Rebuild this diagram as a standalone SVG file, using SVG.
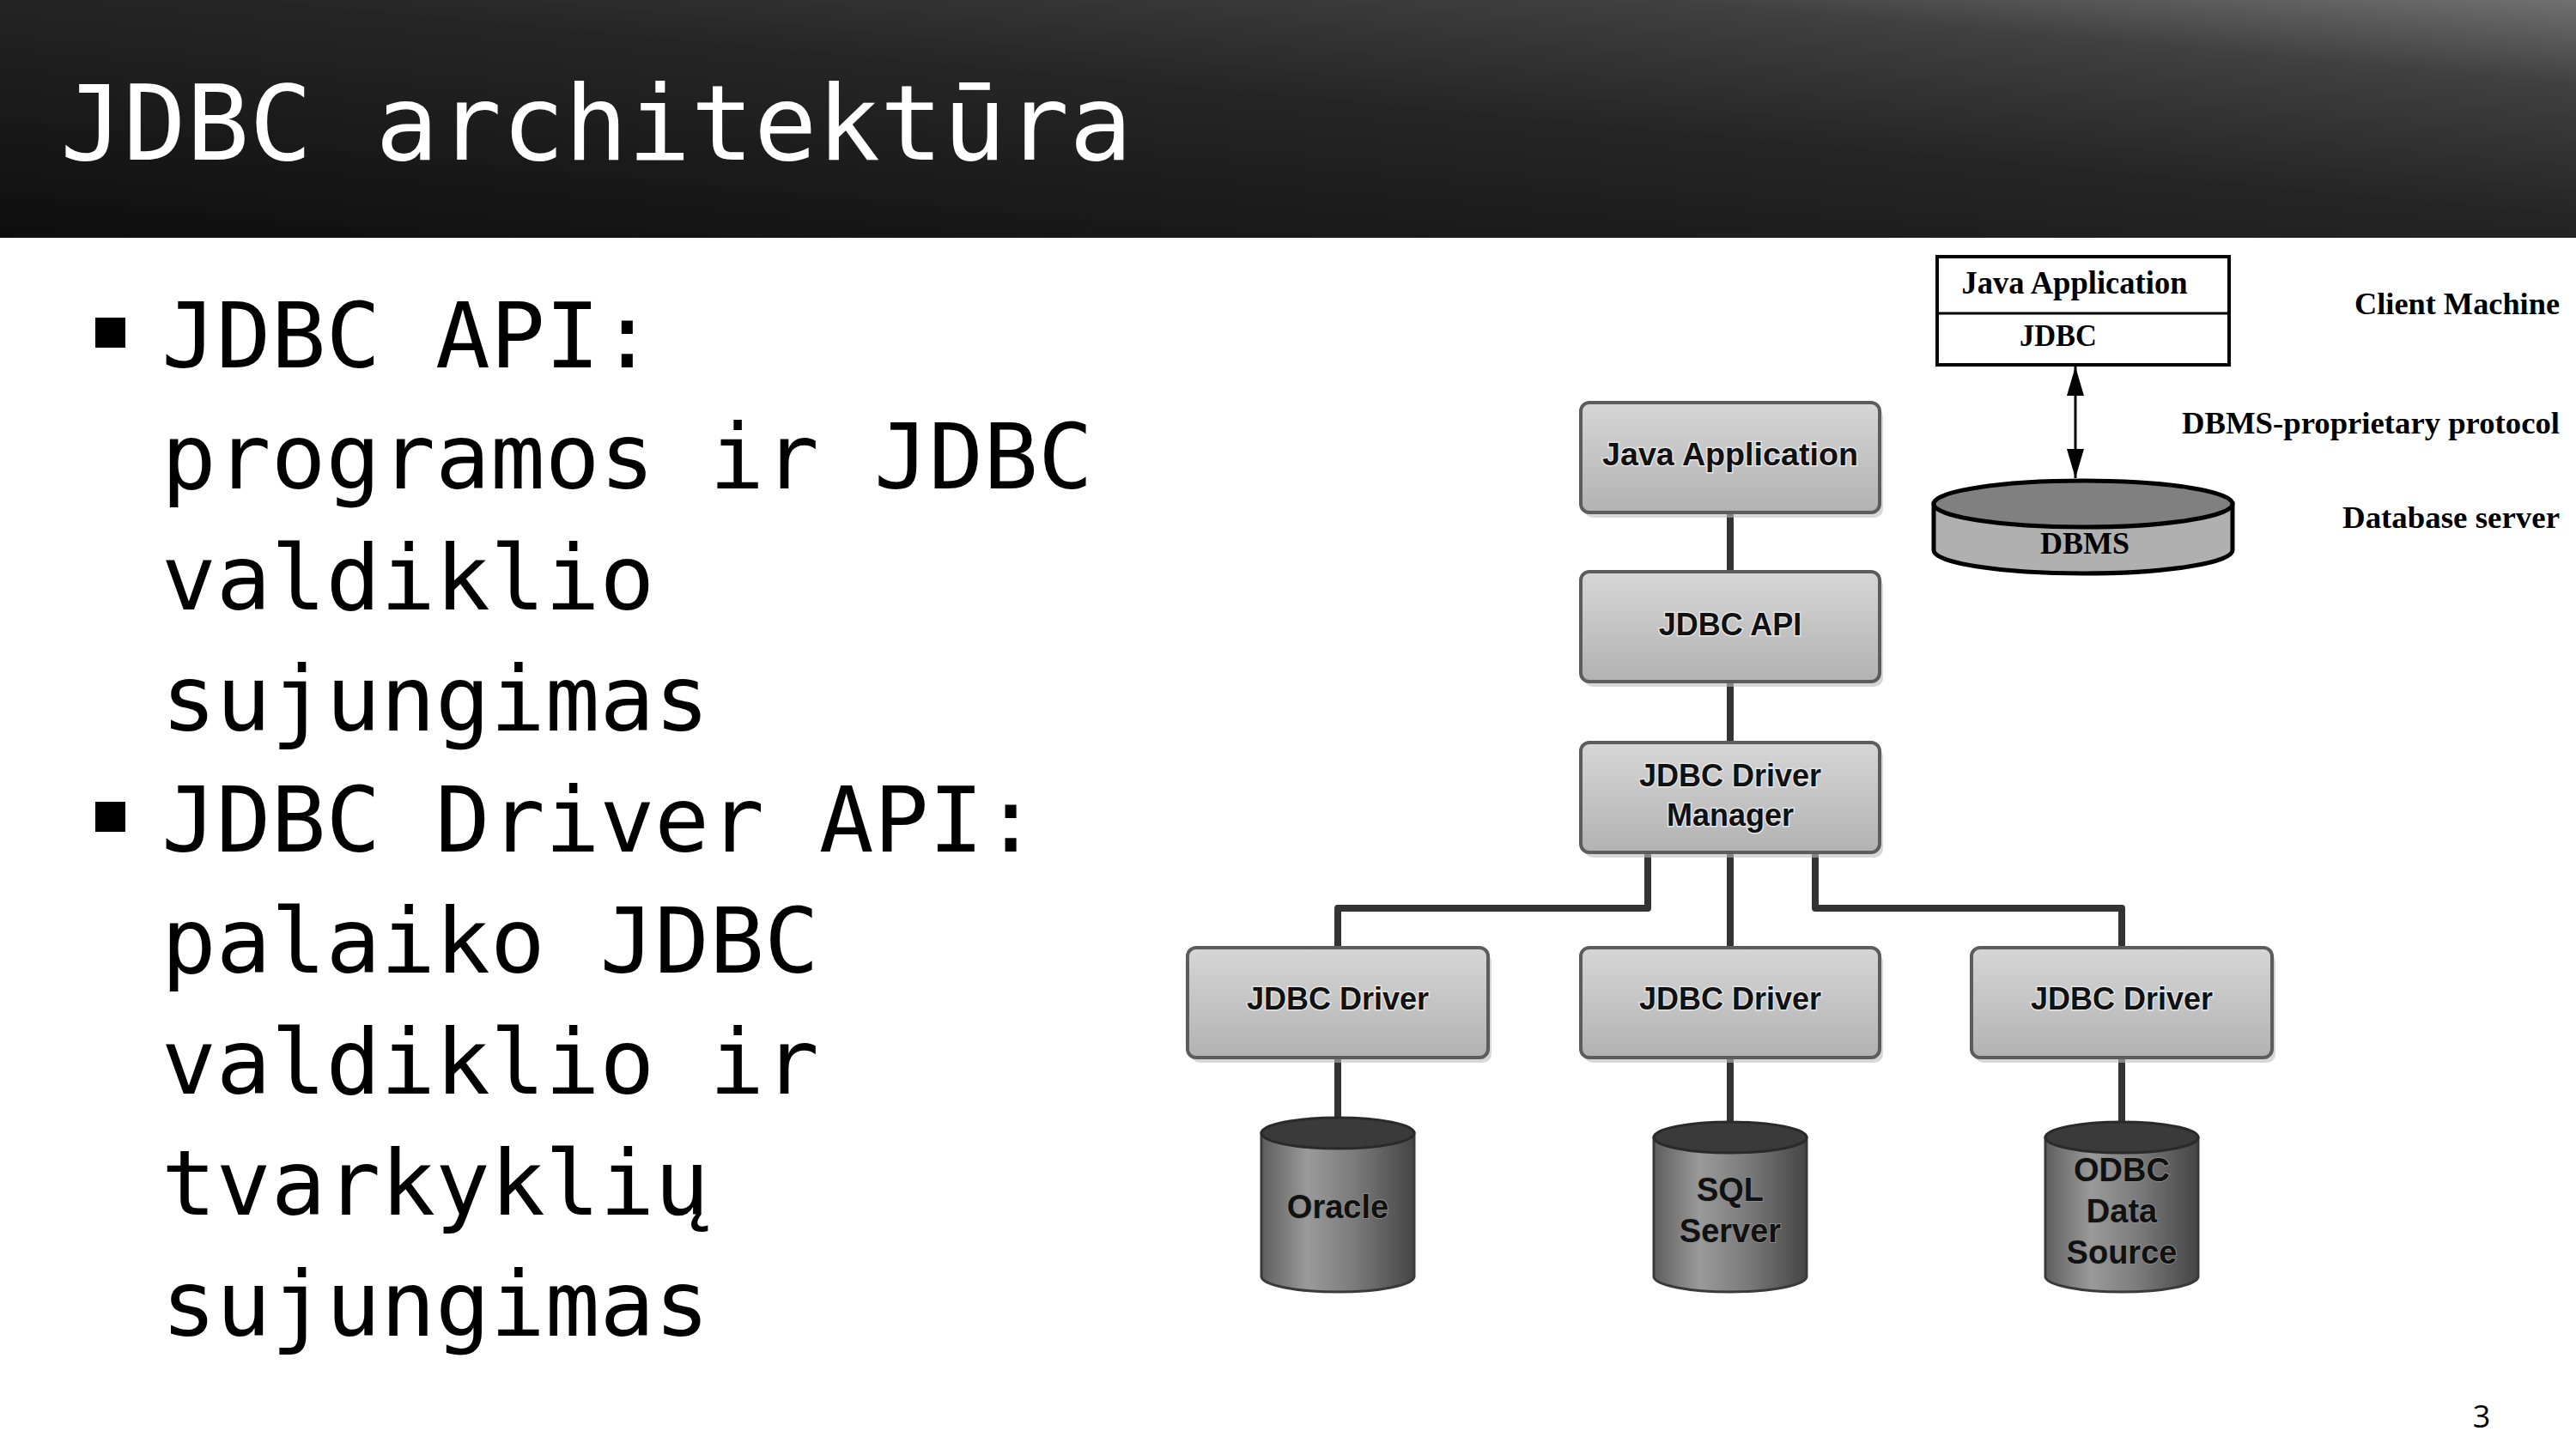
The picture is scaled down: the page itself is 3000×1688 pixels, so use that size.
<svg xmlns="http://www.w3.org/2000/svg" width="3000" height="1688" viewBox="0 0 3000 1688">
<defs>
  <linearGradient id="titleGrad" x1="0" y1="1" x2="1" y2="0">
    <stop offset="0" stop-color="#0e0e0e"/>
    <stop offset="0.55" stop-color="#262626"/>
    <stop offset="0.82" stop-color="#404040"/>
    <stop offset="1" stop-color="#707070"/>
  </linearGradient>
  <linearGradient id="boxGrad" x1="0" y1="0" x2="0" y2="1">
    <stop offset="0" stop-color="#d6d6d6"/>
    <stop offset="1" stop-color="#b2b2b2"/>
  </linearGradient>
  <linearGradient id="cylBody" x1="0" y1="0" x2="1" y2="0">
    <stop offset="0" stop-color="#5e5e5e"/>
    <stop offset="0.3" stop-color="#9a9a9a"/>
    <stop offset="0.6" stop-color="#7c7c7c"/>
    <stop offset="1" stop-color="#454545"/>
  </linearGradient>
  <marker id="tri" markerUnits="userSpaceOnUse" markerWidth="34" markerHeight="20" refX="34" refY="10" orient="auto-start-reverse" viewBox="0 0 34 20">
    <path d="M0 0 L34 10 L0 20 Z" fill="#000"/>
  </marker>
  <style>
    .mono { font-family: "DejaVu Sans Mono", "Liberation Mono", monospace; }
    .bul { font-size: 106px; fill: #000; }
    .box { fill: url(#boxGrad); stroke: #5c5c5c; stroke-width: 4; }
    .shadow { fill: #bdbdbd; opacity: 0.6; }
    .lbl { font-family: "Liberation Sans", Arial, sans-serif; font-weight: bold; font-size: 36px; fill: #111; text-anchor: middle; stroke: #e4e4e4; stroke-width: 3; paint-order: stroke; }
    .cyl { fill: url(#cylBody); stroke: #3a3a3a; stroke-width: 3; }
    .cyltop { fill: #3a3a3a; stroke: #2a2a2a; stroke-width: 3; }
    .clbl { font-family: "Liberation Sans", Arial, sans-serif; font-weight: bold; font-size: 38px; fill: #111; text-anchor: middle; stroke: #8a8a8a; stroke-width: 2; paint-order: stroke; }
    .conn { fill: none; stroke: #333; stroke-width: 8; stroke-linejoin: round; }
    .serif { font-family: "Liberation Serif", "Times New Roman", serif; font-weight: bold; fill: #000; }
  </style>
</defs>

<rect width="3000" height="1688" fill="#fff"/>

<g id="title">
  <rect x="0" y="0" width="3000" height="277" fill="url(#titleGrad)"/>
  <text class="mono" x="70" y="186" font-size="122" fill="#fff">JDBC architektūra</text>
</g>

<g id="bullets">
  <rect x="111" y="370" width="35" height="35" fill="#000"/>
  <rect x="111" y="934" width="35" height="35" fill="#000"/>
  <text class="mono bul" x="188" y="428">JDBC API:</text>
  <text class="mono bul" x="188" y="569">programos ir JDBC</text>
  <text class="mono bul" x="188" y="710">valdiklio</text>
  <text class="mono bul" x="188" y="851">sujungimas</text>
  <text class="mono bul" x="188" y="992">JDBC Driver API:</text>
  <text class="mono bul" x="188" y="1133">palaiko JDBC</text>
  <text class="mono bul" x="188" y="1274">valdiklio ir</text>
  <text class="mono bul" x="188" y="1415">tvarkyklių</text>
  <text class="mono bul" x="188" y="1556">sujungimas</text>
</g>

<g id="connectors">
  <path class="conn" d="M2015 597 V666"/>
  <path class="conn" d="M2015 794 V865"/>
  <path class="conn" d="M1919 993 V1058 H1558 V1104"/>
  <path class="conn" d="M2015 993 V1104"/>
  <path class="conn" d="M2114 993 V1058 H2471 V1104"/>
  <path class="conn" d="M1558 1232 V1306"/>
  <path class="conn" d="M2015 1232 V1310"/>
  <path class="conn" d="M2471 1232 V1310"/>
  <path d="M2417 427 V557" stroke="#000" stroke-width="3" fill="none" marker-start="url(#tri)" marker-end="url(#tri)"/>
</g>

<g id="java-app">
  <rect class="shadow" x="1845" y="475" width="348" height="128" rx="10"/>
  <rect class="box" x="1841" y="469" width="348" height="128" rx="10"/>
  <text class="lbl" x="2015" y="542" textLength="298" lengthAdjust="spacingAndGlyphs">Java Application</text>
</g>
<g id="jdbc-api">
  <rect class="shadow" x="1845" y="672" width="348" height="128" rx="10"/>
  <rect class="box" x="1841" y="666" width="348" height="128" rx="10"/>
  <text class="lbl" x="2015" y="740">JDBC API</text>
</g>
<g id="driver-manager">
  <rect class="shadow" x="1845" y="871" width="348" height="128" rx="10"/>
  <rect class="box" x="1841" y="865" width="348" height="128" rx="10"/>
  <text class="lbl" x="2015" y="916">JDBC Driver</text>
  <text class="lbl" x="2015" y="962">Manager</text>
</g>
<g id="driver-oracle">
  <rect class="shadow" x="1387" y="1110" width="350" height="128" rx="10"/>
  <rect class="box" x="1383" y="1104" width="350" height="128" rx="10"/>
  <text class="lbl" x="1558" y="1176">JDBC Driver</text>
</g>
<g id="driver-sql">
  <rect class="shadow" x="1845" y="1110" width="348" height="128" rx="10"/>
  <rect class="box" x="1841" y="1104" width="348" height="128" rx="10"/>
  <text class="lbl" x="2015" y="1176">JDBC Driver</text>
</g>
<g id="driver-odbc">
  <rect class="shadow" x="2300" y="1110" width="350" height="128" rx="10"/>
  <rect class="box" x="2296" y="1104" width="350" height="128" rx="10"/>
  <text class="lbl" x="2471" y="1176">JDBC Driver</text>
</g>

<g id="db-oracle">
  <path class="cyl" d="M1469 1320 V1487 A89 18 0 0 0 1647 1487 V1320 Z"/>
  <ellipse class="cyltop" cx="1558" cy="1320" rx="89" ry="18"/>
  <text class="clbl" x="1558" y="1419">Oracle</text>
</g>
<g id="db-sql">
  <path class="cyl" d="M1926 1325 V1487 A89 18 0 0 0 2104 1487 V1325 Z"/>
  <ellipse class="cyltop" cx="2015" cy="1325" rx="89" ry="18"/>
  <text class="clbl" x="2015" y="1399">SQL</text>
  <text class="clbl" x="2015" y="1447">Server</text>
</g>
<g id="db-odbc">
  <path class="cyl" d="M2382 1325 V1487 A89 18 0 0 0 2560 1487 V1325 Z"/>
  <ellipse class="cyltop" cx="2471" cy="1325" rx="89" ry="18"/>
  <text class="clbl" x="2471" y="1376">ODBC</text>
  <text class="clbl" x="2471" y="1424">Data</text>
  <text class="clbl" x="2471" y="1472">Source</text>
</g>

<g id="client-box">
  <rect x="2256" y="299" width="340" height="126" fill="#fff" stroke="#000" stroke-width="4"/>
  <line x1="2256" y1="365" x2="2596" y2="365" stroke="#000" stroke-width="3"/>
  <text class="serif" x="2416" y="342" font-size="37" text-anchor="middle" textLength="263" lengthAdjust="spacingAndGlyphs">Java Application</text>
  <text class="serif" x="2397" y="403" font-size="35" text-anchor="middle" textLength="90" lengthAdjust="spacingAndGlyphs">JDBC</text>
</g>
<g id="dbms">
  <path d="M2252 587 V641 A174 27 0 0 0 2600 641 V587 Z" fill="#b0b0b0" stroke="#000" stroke-width="5"/>
  <ellipse cx="2426" cy="587" rx="174" ry="27" fill="#808080" stroke="#000" stroke-width="5"/>
  <text class="serif" x="2428" y="645" font-size="36" text-anchor="middle" textLength="104" lengthAdjust="spacingAndGlyphs">DBMS</text>
</g>
<g id="side-labels">
  <text class="serif" x="2981" y="366" font-size="35" text-anchor="end" textLength="239" lengthAdjust="spacingAndGlyphs">Client Machine</text>
  <text class="serif" x="2981" y="505" font-size="35" text-anchor="end" textLength="440" lengthAdjust="spacingAndGlyphs">DBMS-proprietary protocol</text>
  <text class="serif" x="2981" y="615" font-size="35" text-anchor="end" textLength="253" lengthAdjust="spacingAndGlyphs">Database server</text>
</g>

<text x="2890" y="1663" font-family="Open Sans, Liberation Sans, sans-serif" font-size="36" text-anchor="middle" fill="#000">3</text>
</svg>
